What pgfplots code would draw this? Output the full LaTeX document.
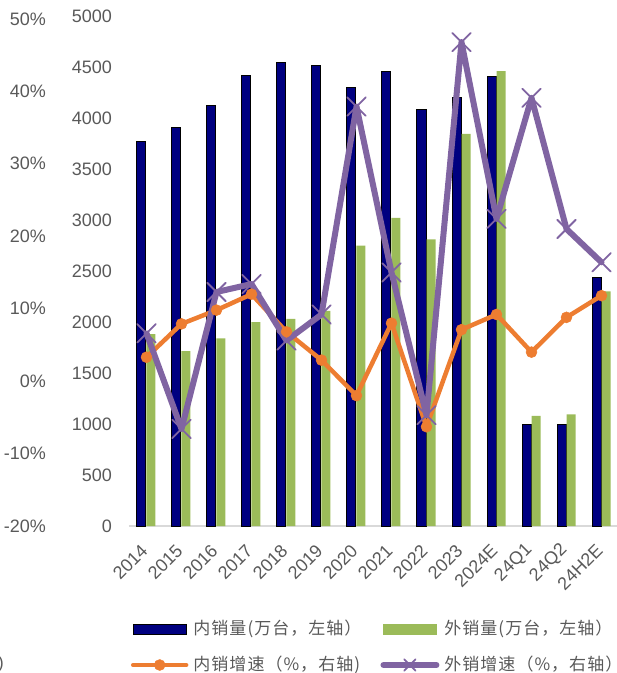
\documentclass[border=0pt]{standalone}
\usepackage{pgfplots}
\pgfplotsset{compat=1.18}
\usepackage{fontspec}
\setmainfont{Liberation Sans}
\newfontfamily\cjk[LetterSpace=6]{Noto Sans CJK SC}

\definecolor{navybar}{HTML}{000080}
\definecolor{greenbar}{HTML}{9BBB59}
\definecolor{orangeline}{HTML}{ED7D31}
\definecolor{purpleline}{HTML}{8064A2}
\definecolor{ticktext}{HTML}{595959}
\definecolor{axisgray}{HTML}{D9D9D9}

\pgfplotsset{
  common/.style={
    scale only axis, width=490pt, height=510pt,
    xmin=-0.5, xmax=13.5,
    clip=false,
    tick style={draw=none},
    tick label style={font=\fontsize{18pt}{20pt}\selectfont, text=ticktext},
    /pgf/number format/assume math mode=true,
    /pgf/number format/1000 sep={},
  },
  lineleg/.style={legend image code/.code={%
    \draw[##1, mark repeat=2, mark phase=2] plot coordinates {(0pt,0pt) (26.5pt,0pt) (53pt,0pt)};}},
  xleg/.style={legend image code/.code={%
    \draw[##1, mark size=8pt, mark repeat=2, mark phase=2] plot coordinates {(0pt,0pt) (26.5pt,0pt) (53pt,0pt)};}},
}

\begin{document}
\begin{tikzpicture}
\path[use as bounding box] (-129pt,-147pt) rectangle (488pt,526pt);

% bars, left axis (0-5000)
\begin{axis}[
  common,
  ymin=0, ymax=5000,
  axis x line*=bottom, axis y line*=left,
  x axis line style={-, draw=axisgray, line width=1.5pt},
  y axis line style={draw=none},
  ytick={0,500,...,5000},
  yticklabel style={inner sep=0pt, xshift=-17pt},
  xtick={0,...,13},
  xticklabels={2014,2015,2016,2017,2018,2019,2020,2021,2022,2023,2024E,24Q1,24Q2,24H2E},
  xticklabel style={inner sep=0pt, xshift=-2pt, yshift=-21.5pt, rotate=45, anchor=east},
]
\addplot[ybar, bar width=9pt, bar shift=-5pt, fill=navybar, draw=black, line width=1pt] coordinates {
  (0,3770) (1,3910) (2,4120) (3,4415) (4,4540) (5,4510) (6,4300)
  (7,4460) (8,4085) (9,4205) (10,4410) (11,995) (12,995) (13,2440)
};
\addplot[ybar, bar width=9pt, bar shift=4.5pt, fill=greenbar, draw=none] coordinates {
  (0,1880) (1,1715) (2,1840) (3,2000) (4,2030) (5,2110) (6,2750)
  (7,3020) (8,2810) (9,3845) (10,4460) (11,1080) (12,1095) (13,2300)
};
\end{axis}

% growth rates, percent axis
\begin{axis}[
  common,
  ymin=-20, ymax=50.4,
  hide x axis,
  axis y line*=left,
  y axis line style={draw=none},
  ytick={-20,-10,...,50},
  yticklabel={\pgfmathprintnumber{\tick}\%},
  yticklabel style={inner sep=0pt, xshift=-83pt},
  legend columns=2,
  legend cell align=left,
  legend style={at={(axis description cs:0.004,-0.1863)}, anchor=north west,
    draw=none, fill=none, inner sep=0pt, outer sep=0pt,
    font=\cjk\fontsize{17pt}{20pt}\selectfont, text=ticktext,
    nodes={inner sep=0pt, text height=13pt, text depth=3pt},
    row sep=20pt,
    /tikz/every odd column/.append style={column sep=5pt},
    /tikz/every even column/.append style={column sep=7pt}},
]
\addlegendimage{legend image code/.code={\draw[fill=navybar, draw=black, line width=1pt] (0pt,-5pt) rectangle (53pt,5pt);}}
\addlegendentry{\makebox[180pt][l]{内销量(万台，左轴）}}
\addlegendimage{legend image code/.code={\fill[greenbar] (0pt,-5pt) rectangle (53pt,5pt);}}
\addlegendentry{\makebox[180pt][l]{外销量(万台，左轴）}}

\addplot[orangeline, line width=4.5pt, line join=round, line cap=round,
  mark=*, mark size=5.5pt, mark options={solid, line width=0.5pt, fill=orangeline},
  lineleg]
coordinates {
  (0,3.3) (1,7.9) (2,9.8) (3,12.0) (4,6.8) (5,2.9) (6,-2.0)
  (7,8.0) (8,-6.3) (9,7.1) (10,9.2) (11,4.0) (12,8.8) (13,11.8)
};
\addlegendentry{\makebox[180pt][l]{内销增速（\%，右轴)}}

\addplot[purpleline, line width=6pt, line join=round, line cap=round,
  mark=x, mark size=13pt, mark options={solid, line width=1.8pt},
  xleg]
coordinates {
  (0,6.6) (1,-6.6) (2,12.3) (3,13.4) (4,5.6) (5,9.2) (6,37.9)
  (7,15.0) (8,-4.7) (9,46.8) (10,22.4) (11,39.1) (12,21.0) (13,16.4)
};
\addlegendentry{\makebox[180pt][l]{外销增速（\%，右轴）}}
\end{axis}

\node[anchor=east, inner sep=0pt, font=\fontsize{17pt}{20pt}\selectfont, text=ticktext] at (-125pt,-138pt) {)};
\end{tikzpicture}
\end{document}
